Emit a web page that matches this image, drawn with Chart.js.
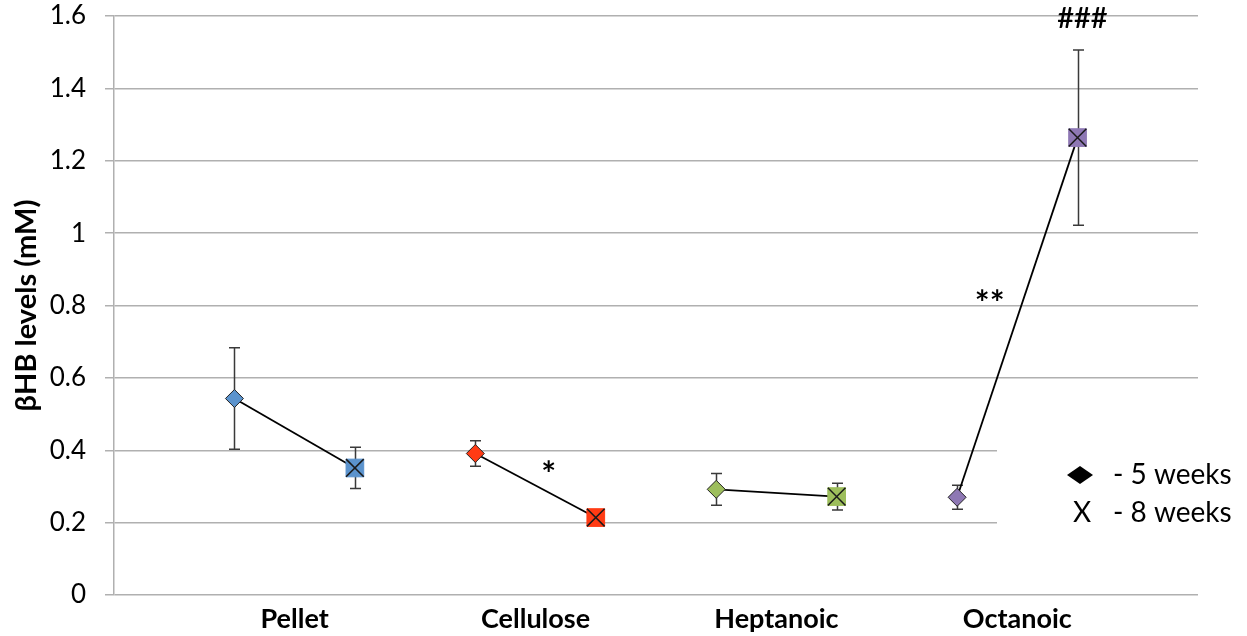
<!DOCTYPE html>
<html><head><meta charset="utf-8">
<script src="https://cdn.jsdelivr.net/npm/chart.js@4/dist/chart.umd.min.js"></script>
<style>html,body{margin:0;padding:0;background:#fff}#wrap{width:1247px;height:636px;position:relative}</style>
</head><body><div id="wrap"><canvas id="c" width="1247" height="636"></canvas></div>
<script>
// ---- data ----
const categories = ['Pellet', 'Cellulose', 'Heptanoic', 'Octanoic'];
const week5 = [0.543, 0.391, 0.292, 0.270];
const week5Err = [0.140, 0.035, 0.044, 0.033];
const week8 = [0.351, 0.214, 0.272, 1.264];
const week8Err = [0.057, 0.020, 0.037, 0.242];
const groupColors = ['#5B93CD', '#FF3B14', '#9DBE5C', '#8E78B4'];
const yTickValues = [0, 0.2, 0.4, 0.6, 0.8, 1.0, 1.2, 1.4, 1.6];
const annTexts = ['*', '**', '###'];
const annX = [3.61, 7.27, 8.04];
const annY = [0.354, 0.829, 1.597];
const legendLabels = ['- 5 weeks', '- 8 weeks'];

const FONT = 'Lato, "Open Sans", sans-serif';

// x positions: group i -> 5 weeks at 2i+1, 8 weeks at 2i+2
const xs5 = categories.map((c, i) => 2 * i + 1);
const xs8 = categories.map((c, i) => 2 * i + 2);
const xLabelPos = categories.map((c, i) => 2 * i + 1.5);

const datasets = [];
// X marks on top of the 8-week squares
datasets.push({
  label: '8 weeks X',
  data: categories.map((c, i) => ({x: xs8[i], y: week8[i]})),
  showLine: false,
  pointStyle: 'crossRot',
  pointRadius: 12.5,
  pointBorderColor: '#1a1a1a',
  pointBorderWidth: 1.5,
  order: 0
});
categories.forEach((c, i) => {
  datasets.push({
    label: c,
    data: [{x: xs5[i], y: week5[i]}, {x: xs8[i], y: week8[i]}],
    borderColor: '#000',
    borderWidth: 1.8,
    pointStyle: ['rectRot', 'rect'],
    pointRadius: [9, 12.5],
    pointBackgroundColor: groupColors[i],
    pointBorderColor: ['#222', groupColors[i]],
    pointBorderWidth: [1, 1],
    err: [week5Err[i], week8Err[i]],
    order: 1
  });
});

const errorBars = {
  id: 'errorBars',
  beforeDatasetsDraw(chart) {
    const ctx = chart.ctx, xS = chart.scales.x, yS = chart.scales.y;
    ctx.save();
    ctx.strokeStyle = '#3a3a3a';
    ctx.lineWidth = 1.5;
    chart.data.datasets.forEach(ds => {
      if (!ds.err) return;
      ds.data.forEach((p, j) => {
        const x = Math.round(xS.getPixelForValue(p.x)) + 0.5;
        const yt = yS.getPixelForValue(p.y + ds.err[j]);
        const yb = yS.getPixelForValue(p.y - ds.err[j]);
        ctx.beginPath();
        ctx.moveTo(x, yt); ctx.lineTo(x, yb);
        ctx.moveTo(x - 5.5, yt); ctx.lineTo(x + 5.5, yt);
        ctx.moveTo(x - 5.5, yb); ctx.lineTo(x + 5.5, yb);
        ctx.stroke();
      });
    });
    ctx.restore();
  }
};

const overlay = {
  id: 'overlay',
  afterDraw(chart) {
    const ctx = chart.ctx, xS = chart.scales.x, yS = chart.scales.y;
    ctx.save();
    // annotations (annY is the visual centre of the glyphs)
    ctx.fillStyle = '#000';
    ctx.textAlign = 'center';
    ctx.textBaseline = 'alphabetic';
    annTexts.forEach((t, i) => {
      const isHash = t.startsWith('#');
      const size = isHash ? 29 : 35;
      ctx.font = (isHash ? '600 ' : 'bold ') + size + 'px ' + FONT;
      const off = isHash ? 0.36 * size : 0.56 * size;
      ctx.fillText(t, xS.getPixelForValue(annX[i]), yS.getPixelForValue(annY[i]) + off);
    });
    // legend box (white) covering grid lines
    const ca = chart.chartArea;
    const bx = 997, by = yS.getPixelForValue(0.43), bw = ca.right - bx + 2, bh = yS.getPixelForValue(0.14) - by;
    ctx.fillStyle = '#fff';
    ctx.fillRect(bx, by, bw, bh);
    // legend symbols
    ctx.fillStyle = '#000';
    const y1 = 475, y2 = 513;
    ctx.beginPath();
    ctx.moveTo(1080, y1 - 9); ctx.lineTo(1093, y1); ctx.lineTo(1080, y1 + 9); ctx.lineTo(1067, y1);
    ctx.closePath(); ctx.fill();
    ctx.font = '28px ' + FONT;
    ctx.textAlign = 'center';
    ctx.textBaseline = 'middle';
    ctx.fillText('X', 1082, y2);
    ctx.textAlign = 'left';
    ctx.fillText(legendLabels[0], 1113, y1);
    ctx.fillText(legendLabels[1], 1113, y2);
    ctx.restore();
  }
};

new Chart(document.getElementById('c'), {
  type: 'line',
  data: {datasets},
  plugins: [errorBars, overlay],
  options: {
    responsive: false,
    animation: false,
    events: [],
    layout: {padding: {top: 0, right: 49, left: 0, bottom: 0}},
    plugins: {legend: {display: false}, tooltip: {enabled: false}},
    scales: {
      x: {
        type: 'linear', min: 0, max: 9,
        grid: {display: false, drawTicks: false},
        border: {display: false},
        afterBuildTicks: s => { s.ticks = xLabelPos.map(v => ({value: v})); },
        afterFit: s => { s.height = 41; s.paddingLeft = 0; s.paddingRight = 0; },
        ticks: {
          callback: (v) => categories[xLabelPos.indexOf(v)],
          font: {family: FONT, size: 27, weight: 'bold'},
          color: '#000',
          padding: 8,
          maxRotation: 0,
          autoSkip: false
        }
      },
      y: {
        min: 0, max: 1.6,
        afterBuildTicks: s => { s.ticks = yTickValues.map(v => ({value: v})); },
        afterFit: s => { s.width = 114; s.paddingTop = 16; s.paddingBottom = 0; },
        grid: {color: '#b0b0b0', lineWidth: 1.5, tickLength: 9, drawTicks: true},
        border: {color: '#b0b0b0', width: 1.5},
        ticks: {
          callback: v => String(Math.round(v * 10) / 10),
          font: {family: FONT, size: 26},
          color: '#000',
          padding: 19
        },
        title: {
          display: true,
          text: 'βHB levels (mM)',
          font: {family: FONT, size: 29, weight: 'bold'},
          color: '#000',
          padding: {top: 9, bottom: 0}
        }
      }
    }
  }
});
</script></body></html>
